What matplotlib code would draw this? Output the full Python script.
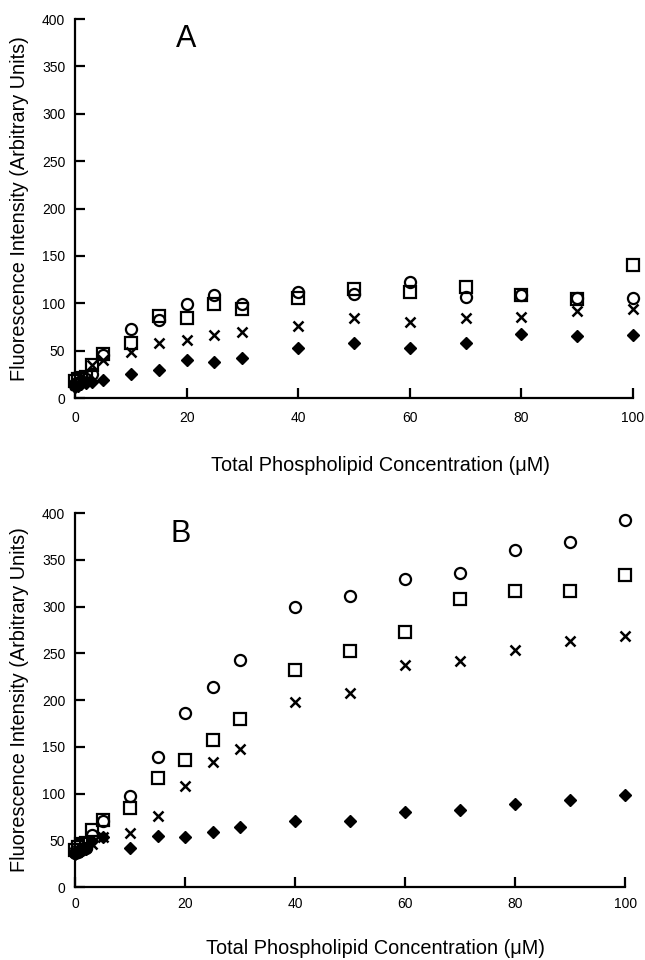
import matplotlib
matplotlib.use("Agg")
import matplotlib.pyplot as plt

plt.rcParams['font.family'] = ['Liberation Sans', 'DejaVu Sans']

x = [0, 0.5, 1, 2, 3, 5, 10, 15, 20, 25, 30, 40, 50, 60, 70, 80, 90, 100]

# Panel A
a_circle = [15, 16, 18, 20, 25, 45, 73, 82, 99, 109, 99, 112, 110, 122, 107, 109, 106, 106]
a_square = [18, 20, 21, 22, 35, 46, 58, 87, 84, 99, 94, 106, 115, 112, 117, 109, 105, 140]
a_cross = [14, 16, 17, 19, 35, 40, 49, 58, 61, 67, 70, 76, 84, 80, 84, 86, 92, 94]
a_diamond = [12, 13, 15, 16, 17, 19, 25, 30, 40, 38, 42, 53, 58, 53, 58, 68, 65, 66]

# Panel B
b_circle = [36, 38, 40, 42, 56, 71, 97, 139, 186, 214, 243, 300, 311, 329, 336, 360, 369, 393]
b_square = [40, 43, 46, 47, 61, 72, 85, 117, 136, 157, 180, 232, 252, 273, 308, 317, 317, 334]
b_cross = [37, 40, 42, 43, 46, 53, 58, 76, 108, 134, 148, 198, 208, 237, 242, 254, 263, 268]
b_diamond = [35, 37, 39, 41, 49, 53, 42, 55, 54, 59, 64, 71, 71, 80, 82, 89, 93, 98]

yticks = [0, 50, 100, 150, 200, 250, 300, 350, 400]
xticks = [0, 20, 40, 60, 80, 100]
xlabel = "Total Phospholipid Concentration (\u03bcM)"
ylabel = "Fluorescence Intensity (Arbitrary Units)"

fig = plt.figure(figsize=(6.45, 9.6), dpi=100)
axA = fig.add_axes([0.1163, 0.5854, 0.865, 0.3948])
axB = fig.add_axes([0.1163, 0.076, 0.853, 0.3896])

def draw(ax, c, s, xx, d, letter, lpos, xpad, xlpad):
    ax.plot(x, c, linestyle='none', marker='o', markersize=8, markerfacecolor='none',
            markeredgecolor='black', markeredgewidth=1.6, clip_on=False)
    ax.plot(x, s, linestyle='none', marker='s', markersize=8, markerfacecolor='none',
            markeredgecolor='black', markeredgewidth=1.6, clip_on=False)
    ax.plot(x, xx, linestyle='none', marker='x', markersize=7, color='black',
            markeredgewidth=1.8, clip_on=False)
    ax.plot(x, d, linestyle='none', marker='D', markersize=6.5, color='black', clip_on=False)
    ax.set_xlim(0, 100)
    ax.set_ylim(0, 400)
    ax.set_xticks(xticks)
    ax.set_yticks(yticks)
    for sp in ['top', 'right']:
        ax.spines[sp].set_visible(False)
    for sp in ['left', 'bottom']:
        ax.spines[sp].set_linewidth(1.6)
    ax.tick_params(direction='in', length=7, width=1.6, labelsize=10)
    ax.tick_params(axis='y', pad=7)
    ax.tick_params(axis='x', pad=xpad)
    ax.set_xlabel(xlabel, fontsize=14.3, labelpad=xlpad, x=0.547)
    ax.set_ylabel(ylabel, fontsize=14.3, labelpad=9)
    ax.text(lpos[0], lpos[1], letter, transform=ax.transAxes, fontsize=22, ha='center', va='center')

draw(axA, a_circle, a_square, a_cross, a_diamond, 'A', (0.2, 0.947), 9.5, 22)
draw(axB, b_circle, b_square, b_cross, b_diamond, 'B', (0.192, 0.945), 7, 20)

fig.savefig('out.png', dpi=100)
